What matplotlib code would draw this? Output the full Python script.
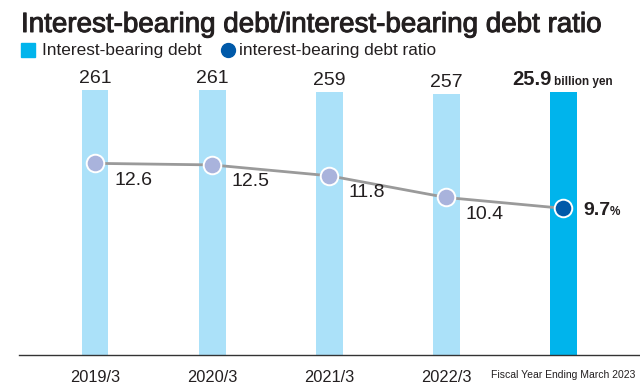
import matplotlib.pyplot as plt
import matplotlib.patheffects as pe
from matplotlib.lines import Line2D

plt.rcParams['font.family'] = ['Liberation Sans', 'DejaVu Sans']

# 有利子負債（億円）と有利子負債比率（%）
years = ['2019/3', '2020/3', '2021/3', '2022/3', 'Fiscal Year Ending March 2023']
debt = [261, 261, 259, 257, 259]
ratio = [12.6, 12.5, 11.8, 10.4, 9.7]

bar_light = '#abe1f9'
bar_main = '#00b4ec'
dot_light = '#a9b3dc'
dot_main = '#0059a9'
line_col = '#9a9a9a'
txt = '#231f20'

W, H = 640, 387
fig = plt.figure(figsize=(W / 100, H / 100), dpi=100)
ax = fig.add_axes([19 / W, 32 / H, 1 - 19 / W, 295 / H])
x = list(range(len(years)))
colors = [bar_light] * (len(x) - 1) + [bar_main]
ax.bar(x, debt, width=0.23, color=colors, zorder=1)
ax.set_xlim(-0.649, 4.654)
ax.set_ylim(0, 290.9)

for s in ['top', 'left', 'right']:
    ax.spines[s].set_visible(False)
ax.spines['bottom'].set_color('#333333')
ax.spines['bottom'].set_linewidth(1.0)
ax.set_yticks([])
ax.set_xticks(x)
ax.set_xticklabels(years)
ax.tick_params(axis='x', length=0, pad=11, labelsize=11.8, labelcolor=txt)
ax.get_xticklabels()[-1].set_fontsize(7.5)

# 棒の上の数値
for i in x[:-1]:
    ax.annotate(str(debt[i]), (i, debt[i]), xytext=(0, 5), textcoords='offset points',
                ha='center', va='baseline', fontsize=14, color=txt)
ax.annotate(f'{debt[-1] / 10:.1f}', (x[-1], debt[-1]), xytext=(-8.3, 5), textcoords='offset points',
            ha='right', va='baseline', fontsize=14.5, fontweight='bold', color=txt)
ax.annotate('billion yen', (x[-1], debt[-1]), xytext=(-6.6, 5), textcoords='offset points',
            ha='left', va='baseline', fontsize=8.5, fontweight='bold', color=txt)

# 比率の折れ線
ax2 = ax.twinx()
ax2.set_ylim(0.25, 19.26)
ax2.axis('off')
ax2.plot(x, ratio, color=line_col, lw=2.0, zorder=2)
ax2.scatter(x[:-1], ratio[:-1], s=160, color=dot_light, edgecolors='white', linewidths=1.4, zorder=3)
ax2.scatter(x[-1:], ratio[-1:], s=160, color=dot_main, edgecolors='white', linewidths=1.4, zorder=3)
for i in x[:-1]:
    ax2.annotate(f'{ratio[i]:.1f}', (i, ratio[i]), xytext=(13.7, -12.2), textcoords='offset points',
                 ha='left', va='center', fontsize=14, color=txt)
ax2.annotate(f'{ratio[-1]:.1f}', (x[-1], ratio[-1]), xytext=(14.4, -5), textcoords='offset points',
             ha='left', va='baseline', fontsize=14, fontweight='bold', color=txt)
ax2.annotate('%', (x[-1], ratio[-1]), xytext=(33.6, -5), textcoords='offset points',
             ha='left', va='baseline', fontsize=8.5, fontweight='bold', color=txt)

# タイトルと凡例
fig.text(21 / W, 1 - 32 / H, 'Interest-bearing debt/interest-bearing debt ratio', fontsize=20,
         va='baseline', color=txt,
         path_effects=[pe.withStroke(linewidth=0.7, foreground=txt)])
fig.add_artist(plt.Rectangle((21 / W, 1 - 57 / H), 14 / W, 14 / H, color=bar_main,
                             transform=fig.transFigure))
fig.text(42 / W, 1 - 50 / H, 'Interest-bearing debt', fontsize=12.4, va='center', color=txt)
fig.add_artist(Line2D([228 / W], [1 - 50 / H], marker='o', markersize=10, linestyle='none',
                      color=dot_main, transform=fig.transFigure))
fig.text(239 / W, 1 - 50 / H, 'interest-bearing debt ratio', fontsize=12.4, va='center', color=txt)

fig.savefig('out.png', dpi=100)
